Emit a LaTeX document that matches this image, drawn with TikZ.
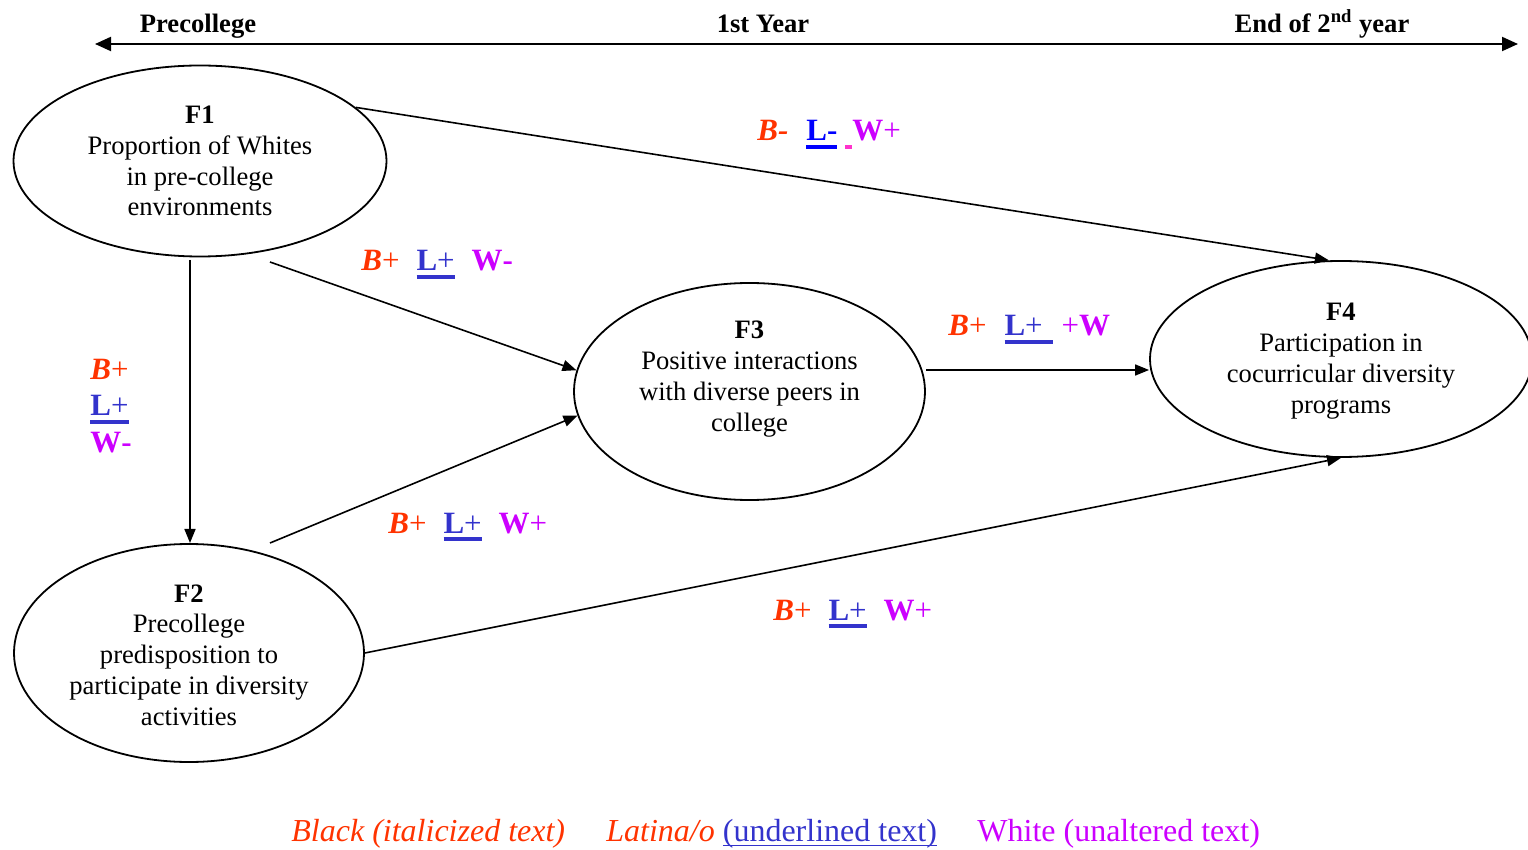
\documentclass[tikz,border=0pt]{standalone}
\usepackage{fontspec}
\setmainfont{Liberation Serif}
\usetikzlibrary{arrows.meta,shapes.geometric}
\definecolor{bcol}{HTML}{FF3300}
\definecolor{lcol}{HTML}{3333CC}
\definecolor{lcolb}{HTML}{0000FF}
\definecolor{wcol}{HTML}{CC00FF}
\definecolor{pcol}{HTML}{FF33CC}
% thick underline drawn as a rule under the box
\newcommand\ulbox[1]{\setbox0\hbox{#1}\rlap{\rule[-3.8pt]{\wd0}{1.7pt}}\box0}
\newcommand\ulthin[1]{\setbox0\hbox{#1}\rlap{\rule[-2.6pt]{\wd0}{0.8pt}}\box0}
% group labels
\newcommand\Bt[1]{\textcolor{bcol}{\textbf{\textit{B}}#1}}
\newcommand\Lt[1]{\textcolor{lcol}{\ulbox{\textbf{L}#1}}}
\newcommand\Wt[1]{\textcolor{wcol}{\textbf{W}#1}}
\newcommand\gap{\hspace{8.5pt}}
\begin{document}
\begin{tikzpicture}[x=0.5pt,y=-0.5pt,
  font=\fontsize{13.3}{15.4}\selectfont,
  ell/.style={draw, ellipse, line width=0.9pt, inner sep=0pt},
  arr/.style={-{Triangle[length=7pt,width=5.5pt]}, line width=0.8pt},
  hdr/.style={anchor=base, inner sep=0pt, font=\fontsize{13.3}{15.4}\selectfont\bfseries},
  lab/.style={anchor=base west, inner sep=0pt, font=\fontsize{15.5}{18}\selectfont},
  leg/.style={anchor=base west, inner sep=0pt, font=\fontsize{16}{19}\selectfont},
  body/.style={align=center, inner sep=0pt}]
\useasboundingbox (0,0) rectangle (1528,850);

% time line
\node[hdr] (tpre) at (198,33) {Precollege};
\node[hdr] (tyr1) at (763,33) {1st Year};
\node[hdr] (tyr2) at (1322,33) {End of 2\textsuperscript{nd} year};
\coordinate (tl) at (95,44);
\coordinate (tr) at (1518,44);
\draw[{Triangle[length=8pt,width=7pt]}-{Triangle[length=8pt,width=7pt]}, line width=1pt] (tl) -- (tr);

% factors
\node[ell, minimum width=186.5pt, minimum height=95.5pt] (f1) at (200,161) {};
\node[ell, minimum width=175pt, minimum height=109pt] (f2) at (189,653) {};
\node[ell, minimum width=175.5pt, minimum height=108.5pt] (f3) at (749.5,391.5) {};
\node[ell, minimum width=191pt, minimum height=98pt] (f4) at (1341,359) {};

\node[body] (t1) at (200,161) {\textbf{F1}\\Proportion of Whites\\in pre-college\\environments};
\node[body] (t2) at (189,655) {\textbf{F2}\\Precollege\\predisposition to\\participate in diversity\\activities};
\node[body] (t3) at (749.5,379) {\textbf{F3}\\Positive interactions\\with diverse peers in\\college};
\node[body] (t4) at (1341,361) {\textbf{F4}\\Participation in\\cocurricular diversity\\programs};

% paths
\coordinate (s13) at (270,262);
\coordinate (s12) at (190,260);
\coordinate (e12) at (190,543);
\coordinate (s23) at (270,543);
\coordinate (s34) at (926,370);
\draw[arr] (f1.19) -- (f4.97);
\draw[arr] (s13) -- (f3.173);
\draw[arr] (s12) -- (e12);
\draw[arr] (s23) -- (f3.188);
\draw[arr] (s34) -- (s34 -| f4.west);
\draw[arr] (f2.east) -- (f4.south);

% path labels
\node[lab] (l14) at (757,141) {\textcolor{bcol}{\textbf{\textit{B-}}}\hspace{9pt}\textcolor{lcolb}{\ulbox{\textbf{L-}}}\hspace{4pt}\textcolor{pcol}{\rule[-3.8pt]{3.5pt}{1.7pt}}\textcolor{wcol}{\textbf{W}+}};
\node[lab] (l13) at (361,271) {\Bt{+}\gap\Lt{+}\gap\Wt{\textbf{-}}};
\node[lab] (l12b) at (90,380) {\Bt{+}};
\node[lab] (l12l) at (90,416) {\Lt{+}};
\node[lab] (l12w) at (90,453) {\Wt{\textbf{-}}};
\node[lab] (l34) at (948,336) {\Bt{+}\hspace{9pt}\textcolor{lcol}{\ulbox{\textbf{L}+\hspace{5pt}}}\hspace{4.5pt}\textcolor{wcol}{+\textbf{W}}};
\node[lab] (l23) at (388,533) {\Bt{+}\gap\Lt{+}\gap\Wt{+}};
\node[lab] (l24) at (773,620) {\Bt{+}\gap\Lt{+}\gap\Wt{+}};

% key
\node[leg] (k1) at (291,841) {\textcolor{bcol}{\textit{Black (italicized text)}}};
\node[leg] (k2) at (606,841) {\textcolor{bcol}{\textit{Latina/o}} \textcolor{lcol}{\ulthin{(underlined text)}}};
\node[leg] (k3) at (977,841) {\textcolor{wcol}{White (unaltered text)}};
\end{tikzpicture}
\end{document}
